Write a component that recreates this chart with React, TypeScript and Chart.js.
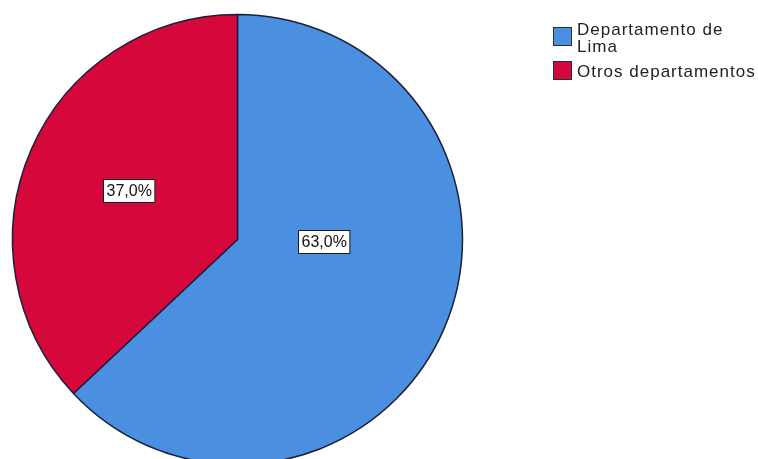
import React, { useEffect, useRef } from "react";
import { Chart, registerables } from "chart.js";

Chart.register(...registerables);

const categories = ["Departamento de Lima", "Otros departamentos"];
const legendLines = [["Departamento de", "Lima"], ["Otros departamentos"]];
const values = [63.0, 37.0];
const sliceColors = ["#4a8fe0", "#d6073b"];

const fmtPct = (v: number) => v.toFixed(1).replace(".", ",") + "%";

const sliceLabelPlugin = {
  id: "sliceLabels",
  afterDatasetsDraw(chart: any, _args: any, opts: any) {
    const meta = chart.getDatasetMeta(0);
    const ctx = chart.ctx as CanvasRenderingContext2D;
    const data = chart.data.datasets[0].data as number[];
    meta.data.forEach((arc: any, i: number) => {
      const p = arc.getProps(["x", "y", "startAngle", "endAngle", "outerRadius"], true);
      const place = opts.places[i];
      const a = (p.startAngle + p.endAngle) / 2 + (place.angleOffset * Math.PI) / 180;
      const cx = p.x + Math.cos(a) * p.outerRadius * place.r;
      const cy = p.y + Math.sin(a) * p.outerRadius * place.r;
      const text = fmtPct(data[i]);
      ctx.save();
      ctx.font = opts.font;
      (ctx as any).letterSpacing = opts.letterSpacing;
      const w = ctx.measureText(text).width;
      const bw = w + opts.padX * 2;
      const bh = opts.boxH;
      const bx = Math.round(cx - bw / 2) + 0.5;
      const by = Math.round(cy - bh / 2) + 0.5;
      ctx.fillStyle = "#ffffff";
      ctx.fillRect(bx, by, bw, bh);
      ctx.strokeStyle = "#1a1a1a";
      ctx.lineWidth = 1;
      ctx.strokeRect(bx, by, bw, bh);
      ctx.fillStyle = "#111111";
      ctx.textAlign = "left";
      ctx.textBaseline = "middle";
      ctx.fillText(text, bx + opts.padX, by + bh / 2 + 1);
      ctx.restore();
    });
  },
};

const customLegendPlugin = {
  id: "customLegend",
  afterDraw(chart: any, _args: any, opts: any) {
    const ctx = chart.ctx as CanvasRenderingContext2D;
    const colors = chart.data.datasets[0].backgroundColor as string[];
    let y = opts.top;
    ctx.save();
    ctx.font = opts.font;
    (ctx as any).letterSpacing = opts.letterSpacing;
    ctx.textBaseline = "alphabetic";
    ctx.textAlign = "left";
    opts.lines.forEach((lines: string[], i: number) => {
      ctx.fillStyle = colors[i];
      ctx.fillRect(opts.left + 0.5, y + 0.5, opts.box, opts.box);
      ctx.strokeStyle = "#2a2a3a";
      ctx.lineWidth = 1;
      ctx.strokeRect(opts.left + 0.5, y + 0.5, opts.box, opts.box);
      ctx.fillStyle = "#222222";
      const mid = y + opts.box / 2;
      const n = lines.length;
      lines.forEach((ln: string, j: number) => {
        ctx.fillText(ln, opts.textX, mid + (j - (n - 1) / 2) * opts.lineH + opts.capShift);
      });
      y += opts.itemGap + (n - 1) * opts.lineH;
    });
    ctx.restore();
  },
};

export default function App() {
  const ref = useRef<HTMLCanvasElement | null>(null);
  useEffect(() => {
    document.body.style.margin = "0";
    if (!ref.current) return;
    const chart = new Chart(ref.current, {
      type: "pie",
      data: {
        labels: categories,
        datasets: [
          {
            data: values,
            backgroundColor: sliceColors,
            borderColor: "#1c2038",
            borderWidth: 1.5,
            hoverBorderWidth: 1.5,
          },
        ],
      },
      options: {
        animation: false,
        responsive: false,
        radius: 225,
        layout: { padding: { left: 0, right: 283, top: 20, bottom: 0 } },
        plugins: {
          legend: { display: false },
          tooltip: { enabled: false },
          sliceLabels: {
            places: [
              { angleOffset: -22, r: 0.382 },
              { angleOffset: 0.8, r: 0.53 },
            ],
            font: "16px 'Liberation Sans', Arial, sans-serif",
            letterSpacing: "0px",
            padX: 3,
            boxH: 23,
          },
          customLegend: {
            lines: legendLines,
            left: 553,
            top: 27,
            box: 18,
            textX: 577,
            capShift: 7.3,
            lineH: 16.6,
            itemGap: 17.4,
            font: "17px 'Liberation Sans', Arial, sans-serif",
            letterSpacing: "1px",
          },
        } as any,
      },
      plugins: [sliceLabelPlugin, customLegendPlugin],
    } as any);
    return () => chart.destroy();
  }, []);
  return (
    <div style={{ width: 758, height: 459, background: "#ffffff" }}>
      <canvas ref={ref} width={758} height={459} style={{ display: "block" }} />
    </div>
  );
}
